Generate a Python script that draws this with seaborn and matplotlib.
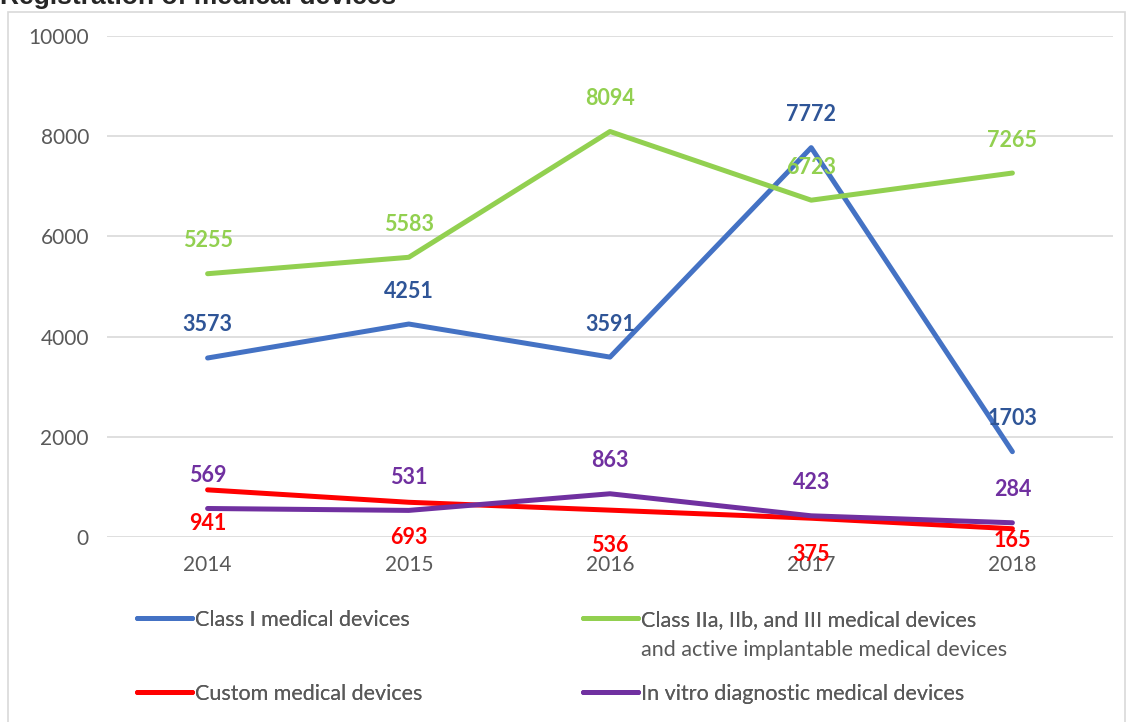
import pandas as pd
import matplotlib.pyplot as plt
import matplotlib.patches as patches
from matplotlib.lines import Line2D
import seaborn as sns

sns.set_theme(style="white")
plt.rcParams['font.family'] = ['Lato', 'DejaVu Sans']

years = [2014, 2015, 2016, 2017, 2018]
class_1 = [3573, 4251, 3591, 7772, 1703]
class_2 = [5255, 5583, 8094, 6723, 7265]
custom = [941, 693, 536, 375, 165]
ivd = [569, 531, 863, 423, 284]

labels = [
    "Class I medical devices",
    "Class IIa, IIb, and III medical devices",
    "Custom medical devices",
    "In vitro diagnostic medical devices",
]
label_2_cont = "and active implantable medical devices"
line_colors = ["#4472C4", "#92D050", "#FF0000", "#7030A0"]
text_colors = ["#2F5597", "#92D050", "#FF0000", "#7030A0"]
# vertical pixel offset of each data label (+ above, - below the point)
offsets = [
    [33] * 5,
    [33] * 5,
    [-34, -35, -35, -36, -12],
    [33] * 5,
]

fig = plt.figure(figsize=(11.3, 7.22), dpi=100)
ax = fig.add_axes([107 / 1130, 1 - 537 / 722, (1113 - 107) / 1130, (537 - 36) / 722])

# chart frame
fig.patches.append(patches.Rectangle((8 / 1130, -0.05), (1125 - 8) / 1130, 1 - 12 / 722 + 0.05,
                                     transform=fig.transFigure, fill=False,
                                     edgecolor="#D9D9D9", linewidth=1.2, zorder=0))
fig.text(0.0, 1 - 4 / 722, "Registration of medical devices", fontsize=19, fontweight="bold",
         va="baseline", ha="left", family=["Liberation Sans", "DejaVu Sans"])

series = [class_1, class_2, custom, ivd]
for vals, lab, lc, tc, offs in zip(series, labels, line_colors, text_colors, offsets):
    df = pd.DataFrame({"year": years, "value": vals})
    sns.lineplot(data=df, x="year", y="value", ax=ax, color=lc, linewidth=3.6, label=lab,
                 legend=False, solid_capstyle="round")
    for x, y, off in zip(years, vals, offs):
        ax.annotate(str(y), (x, y), xytext=(0, off), textcoords="offset pixels",
                    ha="center", va="center", color=tc, fontsize=15.5, fontweight="bold")

ax.set_xlim(2013.5, 2018.5)
ax.set_ylim(0, 10000)
ax.set_xticks(years)
ax.set_yticks(range(0, 10001, 2000))
ax.set_xlabel("")
ax.set_ylabel("")
ax.grid(axis="y", color="#D9D9D9", linewidth=1.2)
ax.set_axisbelow(True)
for s in ax.spines.values():
    s.set_visible(False)
ax.tick_params(axis="both", length=0, labelsize=15, labelcolor="#595959")
ax.tick_params(axis="x", pad=13)
ax.tick_params(axis="y", pad=13)

# legend entries placed one by one
pos = [(137, 620), (583, 620), (137, 694), (583, 694)]
for lab, lc, (px, py) in zip(labels, line_colors, pos):
    h = Line2D([0], [0], color=lc, linewidth=3.6)
    leg = fig.legend(handles=[h], labels=[lab], loc="center left",
                     bbox_to_anchor=(px / 1130, 1 - py / 722), frameon=False,
                     fontsize=15.5, handlelength=2.55, handletextpad=0.15,
                     labelcolor="#595959", borderaxespad=0, borderpad=0)
    fig.add_artist(leg)
fig.text(641 / 1130, 1 - 650 / 722, label_2_cont, fontsize=15.5, color="#595959",
         va="center", ha="left")

fig.savefig("out.png", dpi=100)
